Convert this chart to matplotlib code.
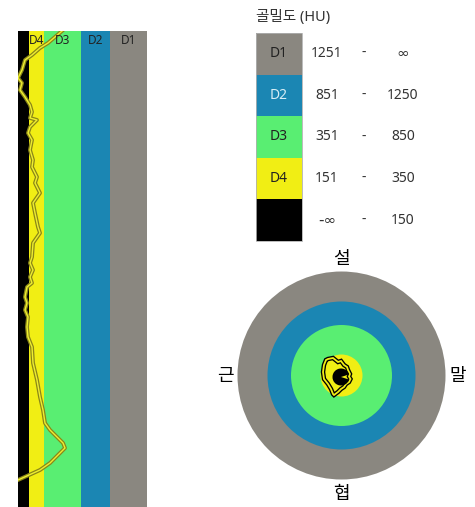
import numpy as np
import matplotlib.pyplot as plt
import matplotlib.patheffects as pe
from matplotlib.patches import Rectangle, Circle, Wedge, Polygon

plt.rcParams['font.family'] = ['Noto Sans', 'Noto Sans CJK KR', 'DejaVu Sans']

# density classes
classes = ['D1', 'D2', 'D3', 'D4', '']
hu_low = ['1251', '851', '351', '151', '-∞']
hu_high = ['∞', '1250', '850', '350', '150']
class_colors = ['#8a8780', '#1b86b3', '#59ee72', '#f1ee14', '#000000']
label_colors = ['#222222', '#d8eef6', '#222222', '#222222', '#ffffff']

# left strip: band widths from inner (black) to outer (D1)
band_names = ['', 'D4', 'D3', 'D2', 'D1']
band_widths = [11, 15, 37, 29, 37]
band_colors = ['#000000', '#f1ee14', '#59ee72', '#1b86b3', '#8a8780']

# bone profile traced along depth
profile_x = [44, 37, 30, 22, 14, 7, 4, 0, 4, 2, 7, 12, 14, 12, 19, 12, 10, 14, 12,
             15, 14, 19, 17, 22, 15, 17, 20, 22, 15, 14, 12, 15, 12, 14, 9, 7, 9,
             7, 10, 9, 10, 14, 15, 19, 22, 25, 27, 32, 45, 47, 40, 32, 22, 0]
profile_y = [0, 6, 12, 17, 24, 29, 39, 47, 52, 59, 66, 74, 81, 87, 89, 96, 102,
             109, 119, 129, 136, 146, 152, 162, 172, 182, 196, 202, 212, 226,
             232, 239, 246, 252, 256, 266, 272, 279, 286, 296, 306, 316, 332,
             349, 366, 379, 392, 399, 412, 417, 424, 432, 439, 449]

# cross-section rings (outer to inner radius) and contour
ring_radius = [104, 74, 50.5, 21]
ring_colors = ['#8a8780', '#1b86b3', '#59ee72', '#f1ee14']
contour_x = [-13.5, -8.5, -3.5, -0.5, 2.5, 5.5, 6.5, 8.5, 7.5, 9, 7.5, 4.5, 2.5,
             -0.5, -3.5, -7.5, -8.5, -10.5, -13.5, -17.5, -18.5, -17.5, -15.5]
contour_y = [16.5, 17.5, 13.5, 14.5, 10.5, 8.5, 5.5, 1.5, -1, -3.5, -6.5, -8.5,
             -11.5, -13.5, -16.5, -19.5, -18.5, -13.5, -8.5, -3.5, 3.5, 10.5, 15.5]
directions = ['설', '협', '근', '말']

W, H = 475, 507
fig = plt.figure(figsize=(W / 100, H / 100), dpi=100)

# ---- left strip
ax = fig.add_axes([18 / W, 0, 129 / W, 476 / H])
edges = np.concatenate([[0], np.cumsum(band_widths)])
for i in range(len(band_widths)):
    ax.axvspan(edges[i], edges[i + 1], color=band_colors[i], lw=0)
    if band_names[i]:
        ax.text((edges[i] + edges[i + 1]) / 2, 9, band_names[i], ha='center',
                va='center', fontsize=8.5, color='#222222')
ax.plot(profile_x, profile_y, color='#eeee30', lw=1.0,
        path_effects=[pe.Stroke(linewidth=2.8, foreground='#8a8618'), pe.Normal()])
ax.set_xlim(0, edges[-1])
ax.set_ylim(476, 0)
ax.axis('off')

# ---- legend (pixel coordinates)
lg = fig.add_axes([0, 0, 1, 1])
lg.set_xlim(0, W)
lg.set_ylim(H, 0)
lg.axis('off')
lg.text(256, 18, '골밀도 (HU)', ha='left', va='center', fontsize=10.5, color='#333333')
box_h = 41.6
for i, c in enumerate(classes):
    y0 = 33 + i * box_h
    lg.add_patch(Rectangle((256, y0), 46, box_h, facecolor=class_colors[i], lw=0))
    yc = y0 + box_h / 2
    lg.text(279, yc, c, ha='center', va='center', fontsize=10, color=label_colors[i])
    for xpos, s in [(327, hu_low[i]), (364, '-'), (403, hu_high[i])]:
        if '∞' in s:
            lg.text(xpos, yc, s, ha='center', va='center', fontsize=11,
                    color='#333333', family='DejaVu Sans')
        else:
            lg.text(xpos, yc, s, ha='center', va='center', fontsize=10, color='#333333')
lg.add_patch(Rectangle((256, 33), 46, box_h * 5, fill=False, edgecolor='#b0b0b0', lw=0.6))

# ---- cross-section
cx = fig.add_axes([216 / W, (H - 501) / H, 251 / W, 251 / H])
cx.set_xlim(-125.5, 125.5)
cx.set_ylim(-125.5, 125.5)
cx.set_aspect('equal')
cx.axis('off')
for r, c in zip(ring_radius, ring_colors):
    cx.add_patch(Circle((0, 0), r, facecolor=c, lw=0))
cx.add_patch(Polygon(np.column_stack([contour_x, contour_y]), closed=True, fill=False,
                     edgecolor='#f1ee14', lw=1.3,
                     path_effects=[pe.Stroke(linewidth=3.2, foreground='black'), pe.Normal()]))
cx.add_patch(Wedge((-0.5, -1.5), 8.5, 18, 342, facecolor='black', lw=0))
cx.text(0, 117, directions[0], ha='center', va='center', fontsize=13)
cx.text(0, -119, directions[1], ha='center', va='center', fontsize=13)
cx.text(-116, 0, directions[2], ha='center', va='center', fontsize=13)
cx.text(116, 0, directions[3], ha='center', va='center', fontsize=13)

fig.savefig('out.png', dpi=100)
